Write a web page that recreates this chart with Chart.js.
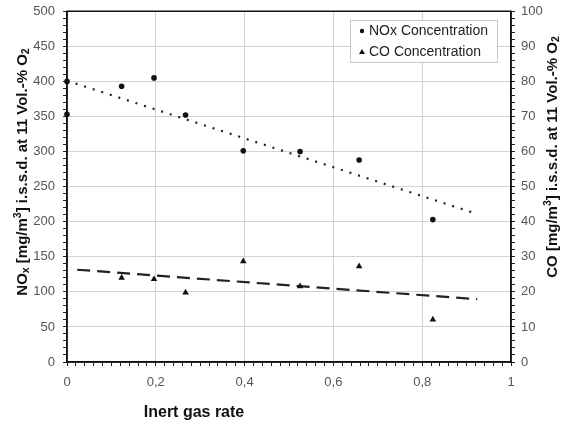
<!DOCTYPE html>
<html>
<head>
<meta charset="utf-8">
<script src="https://cdn.jsdelivr.net/npm/chart.js@4.4.1/dist/chart.umd.min.js"></script>
<style>
  html, body { margin: 0; padding: 0; background: #fff; }
  canvas { display: block; }
</style>
</head>
<body>
<canvas id="chart" width="564" height="425"></canvas>
<script>
// measured points
const noxRate = [0, 0, 0.123, 0.196, 0.267, 0.397, 0.525, 0.658, 0.824];
const noxConc = [400, 353, 393, 405, 352, 301, 300, 288, 203];
const coRate = [0.123, 0.196, 0.267, 0.397, 0.525, 0.658, 0.824];
const coConc = [24, 23.6, 19.8, 28.7, 21.6, 27.3, 12.1];

// linear trend lines (start / end)
const noxTrendRate = [0, 0.924];
const noxTrendConc = [401, 211];
const coTrendRate = [0.023, 0.924];
const coTrendConc = [26.3, 17.9];

const xTickLabels = ['0', '0,2', '0,4', '0,6', '0,8', '1'];

const FONT = '"Liberation Sans", Arial, sans-serif';
const pts = (xs, ys) => xs.map((x, i) => ({ x: x, y: ys[i] }));

const isMult = (v, step) => Math.abs(v / step - Math.round(v / step)) < 1e-6;

// draws a line of text made of pieces, some raised or lowered
function richText(ctx, parts, size) {
  let w = 0;
  parts.forEach(p => {
    ctx.font = 'bold ' + (p.small ? size * 0.7 : size) + 'px ' + FONT;
    p.w = ctx.measureText(p.t).width;
    w += p.w;
  });
  let x = -w / 2;
  parts.forEach(p => {
    ctx.font = 'bold ' + (p.small ? size * 0.7 : size) + 'px ' + FONT;
    ctx.fillText(p.t, x, p.dy || 0);
    x += p.w;
  });
}

const decorations = {
  id: 'decorations',
  afterDraw(chart) {
    const ctx = chart.ctx;
    const a = chart.chartArea;
    ctx.save();

    // frame around the plot
    ctx.strokeStyle = '#111';
    ctx.lineWidth = 1.5;
    ctx.strokeRect(a.left, a.top, a.right - a.left, a.bottom - a.top);

    ctx.fillStyle = '#111';
    ctx.textBaseline = 'middle';
    ctx.textAlign = 'left';

    // x axis title
    ctx.font = 'bold 16px ' + FONT;
    ctx.textAlign = 'center';
    ctx.fillText('Inert gas rate', 194, 413);
    ctx.textAlign = 'left';

    // left axis title
    ctx.save();
    ctx.translate(23, 172);
    ctx.rotate(-Math.PI / 2);
    richText(ctx, [
      { t: 'NO' }, { t: 'x', small: true, dy: 3 }, { t: ' [mg/m' },
      { t: '3', small: true, dy: -5 }, { t: '] i.s.s.d. at 11 Vol.-% O' },
      { t: '2', small: true, dy: 3 }
    ], 15);
    ctx.restore();

    // right axis title
    ctx.save();
    ctx.translate(553, 157);
    ctx.rotate(-Math.PI / 2);
    richText(ctx, [
      { t: 'CO [mg/m' }, { t: '3', small: true, dy: -5 },
      { t: '] i.s.s.d. at 11 Vol.-% O' }, { t: '2', small: true, dy: 3 }
    ], 15);
    ctx.restore();

    // legend
    ctx.fillStyle = '#fff';
    ctx.fillRect(350, 20, 147, 42);
    ctx.strokeStyle = '#c8c8c8';
    ctx.lineWidth = 1;
    ctx.strokeRect(350.5, 20.5, 147, 42);
    const ds = chart.data.datasets;
    ctx.font = '14px ' + FONT;
    ctx.fillStyle = '#222';
    ctx.fillText(ds[0].label, 369, 31);
    ctx.fillText(ds[1].label, 369, 52);
    ctx.fillStyle = '#111';
    ctx.beginPath();
    ctx.arc(362, 31, 2.2, 0, Math.PI * 2);
    ctx.fill();
    ctx.beginPath();
    ctx.moveTo(362, 49);
    ctx.lineTo(365, 54);
    ctx.lineTo(359, 54);
    ctx.closePath();
    ctx.fill();

    ctx.restore();
  }
};

const tickFont = { family: FONT, size: 13, lineHeight: 0.5 };

new Chart(document.getElementById('chart'), {
  type: 'scatter',
  data: {
    datasets: [
      {
        label: 'NOx Concentration',
        data: pts(noxRate, noxConc),
        yAxisID: 'y',
        pointStyle: 'circle',
        pointRadius: 2.8,
        backgroundColor: '#111',
        borderColor: '#111',
        borderWidth: 0,
        clip: false
      },
      {
        label: 'CO Concentration',
        data: pts(coRate, coConc),
        yAxisID: 'y2',
        pointStyle: 'triangle',
        pointRadius: 3.8,
        backgroundColor: '#111',
        borderColor: '#111',
        borderWidth: 0,
        clip: false
      },
      {
        label: 'NOx trend',
        type: 'line',
        data: pts(noxTrendRate, noxTrendConc),
        yAxisID: 'y',
        borderColor: '#222',
        borderWidth: 2.2,
        borderDash: [2, 7],
        pointRadius: 0
      },
      {
        label: 'CO trend',
        type: 'line',
        data: pts(coTrendRate, coTrendConc),
        yAxisID: 'y2',
        borderColor: '#222',
        borderWidth: 2.2,
        borderDash: [13, 7],
        pointRadius: 0
      }
    ]
  },
  options: {
    responsive: false,
    animation: false,
    layout: { padding: { top: 10, left: 0, right: 0, bottom: 0 } },
    plugins: {
      legend: { display: false },
      tooltip: { enabled: false }
    },
    scales: {
      x: {
        type: 'linear',
        min: 0,
        max: 1,
        afterFit: s => { s.height = 63; },
        ticks: {
          stepSize: 0.02,
          autoSkip: false,
          maxRotation: 0,
          padding: 13,
          color: '#555',
          font: tickFont,
          callback: v => isMult(v, 0.2) ? xTickLabels[Math.round(v / 0.2)] : ''
        },
        grid: {
          color: c => (c.tick && isMult(c.tick.value, 0.2)) ? '#d2d2d2' : 'rgba(0,0,0,0)',
          tickColor: '#222',
          tickLength: 4
        },
        border: { color: '#111', width: 1.5 }
      },
      y: {
        position: 'left',
        min: 0,
        max: 500,
        afterFit: s => { s.width = 67; },
        ticks: {
          stepSize: 10,
          autoSkip: false,
          padding: 8,
          color: '#555',
          font: tickFont,
          callback: v => isMult(v, 50) ? String(v) : ''
        },
        grid: {
          color: c => (c.tick && isMult(c.tick.value, 50)) ? '#d2d2d2' : 'rgba(0,0,0,0)',
          tickColor: '#222',
          tickLength: 4
        },
        border: { color: '#111', width: 1.5 }
      },
      y2: {
        position: 'right',
        min: 0,
        max: 100,
        afterFit: s => { s.width = 53; },
        ticks: {
          stepSize: 2,
          autoSkip: false,
          padding: 6,
          color: '#555',
          font: tickFont,
          callback: v => isMult(v, 10) ? String(v) : ''
        },
        grid: {
          drawOnChartArea: false,
          tickColor: '#222',
          tickLength: 4
        },
        border: { color: '#111', width: 1.5 }
      }
    }
  },
  plugins: [decorations]
});
</script>
</body>
</html>
